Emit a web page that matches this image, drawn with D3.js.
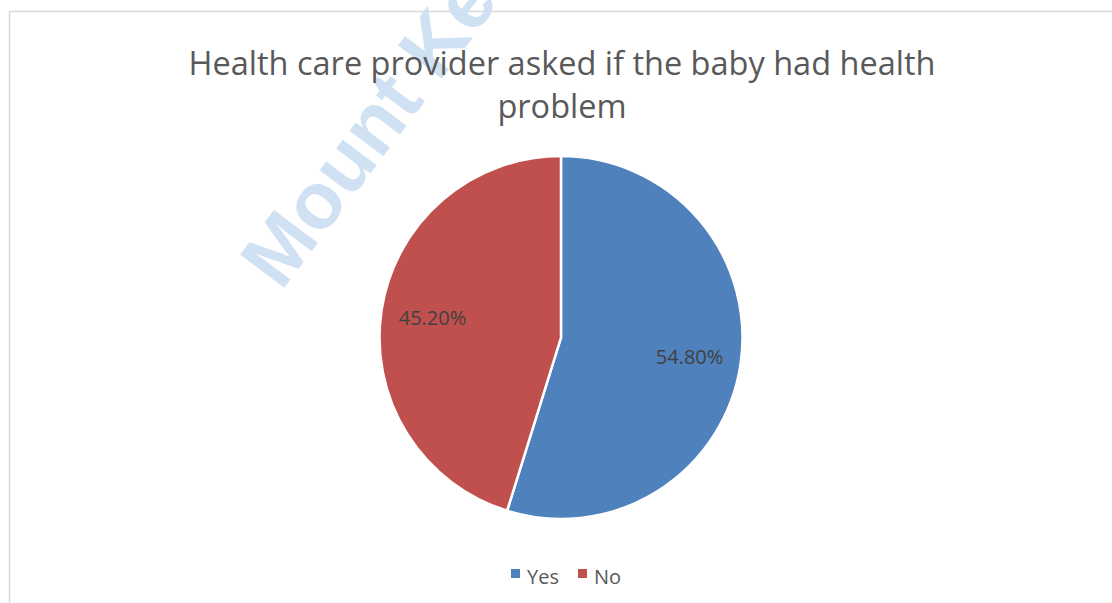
<!DOCTYPE html>
<html><head><meta charset="utf-8">
<script src="https://cdn.jsdelivr.net/npm/d3@7"></script>
<style>body{margin:0;background:#fff;}svg{display:block;}</style>
</head><body>
<svg id="c" width="1112" height="603"></svg>
<script>
const categories = ["Yes", "No"];
const values = [54.8, 45.2];
const labels = ["54.80%", "45.20%"];
const colors = ["#4f81bd", "#c0504d"];
const titleLines = ["Health care provider asked if the baby had health", "problem"];

const svg = d3.select("#c");
svg.append("rect").attr("x", 9.5).attr("y", 11.5).attr("width", 1120).attr("height", 620)
  .attr("fill", "#fff").attr("stroke", "#d9d9d9").attr("stroke-width", 1.5);

// watermark
svg.append("text").attr("transform", "translate(281,292) rotate(-53)")
  .attr("font-family", "Liberation Sans").attr("font-weight", "bold").attr("font-size", 80)
  .attr("fill", "#cfe1f3").text("Mount Ke");

const t = svg.append("text").attr("text-anchor", "middle").attr("fill", "#595959")
  .attr("font-family", "Open Sans").attr("font-size", 32.5);
titleLines.forEach((l, i) => t.append("tspan").attr("x", 562).attr("y", 75 + i * 43).text(l));

const cx = 561, cy = 337.5, r = 181.5;
const pie = d3.pie().sort(null).value(d => d)(values);
const arc = d3.arc().innerRadius(0).outerRadius(r);
const lab = d3.arc().innerRadius(130).outerRadius(130);
const g = svg.append("g").attr("transform", `translate(${cx},${cy})`);
g.selectAll("path").data(pie).join("path").attr("d", arc)
  .attr("fill", (d, i) => colors[i]).attr("stroke", "#fff").attr("stroke-width", 2.5);
g.selectAll("text").data(pie).join("text")
  .attr("x", d => lab.centroid(d)[0]).attr("y", d => lab.centroid(d)[1])
  .attr("text-anchor", "middle").attr("dy", "0.35em")
  .attr("font-family", "Open Sans").attr("font-size", 20).attr("fill", "#404040")
  .text((d, i) => labels[i]);

// legend
const leg = svg.append("g").attr("font-family", "Open Sans").attr("font-size", 20).attr("fill", "#595959");
const lx = [511, 578];
categories.forEach((c, i) => {
  leg.append("rect").attr("x", lx[i]).attr("y", 569).attr("width", 9).attr("height", 9).attr("fill", colors[i]);
  leg.append("text").attr("x", lx[i] + 16).attr("y", 584).text(c);
});
</script>
</body></html>
